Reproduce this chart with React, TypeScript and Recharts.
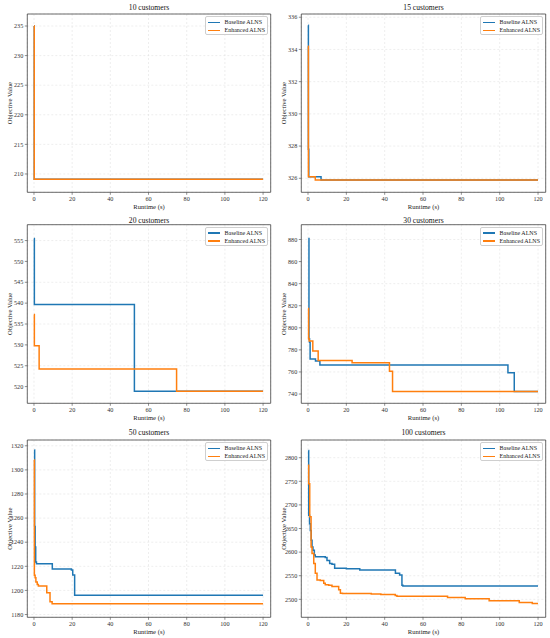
import React from "react";
import { CartesianGrid, Label, Legend, Line, LineChart, ReferenceLine, XAxis, YAxis } from "recharts";

// best-so-far objective value over runtime, [seconds, value] at each change
const baseline10 = [[0, 235], [0.15, 209.1], [120, 209.1]];
const enhanced10 = [[0, 235], [0.15, 209.1], [120, 209.1]];

const baseline15 = [[0.1, 335.5], [0.2, 327.8], [0.4, 326.1], [6.8, 325.9], [120, 325.9]];
const enhanced15 = [[0, 334.2], [0.2, 326.1], [3.8, 325.9], [120, 325.9]];

const baseline20 = [[0, 555.5], [0.2, 539.7], [52.6, 518.9], [120, 518.9]];
const enhanced20 = [[0, 537.3], [0.2, 529.8], [2.7, 524.2], [74.7, 518.9], [120, 518.9]];

const baseline30 = [
  [0.15, 881], [0.5, 790], [0.8, 787], [1.1, 771.7], [3.9, 770], [6.2, 766.3],
  [104.3, 759.2], [107.6, 742.3], [120, 742.3],
];
const enhanced30 = [
  [0, 817.5], [0.3, 790], [0.6, 788], [2.5, 779], [5.3, 770.3], [23, 768.3],
  [42.5, 760.7], [44.1, 742.3], [120, 742.3],
];

const baseline50 = [
  [0.15, 1316.5], [0.35, 1253], [0.6, 1236], [0.9, 1223.5], [1.3, 1222.2],
  [9.6, 1217.8], [19.6, 1217], [20.3, 1212.8], [21.3, 1195.9], [120, 1195.9],
];
const enhanced50 = [
  [0, 1308.3], [0.2, 1212.5], [0.6, 1210.5], [1, 1207], [1.7, 1205], [2.3, 1203.6],
  [6.7, 1198], [8.4, 1190.5], [9.5, 1188.9], [120, 1188.9],
];

const baseline100 = [
  [0.2, 2815.5], [0.35, 2678], [0.8, 2660], [1.2, 2646], [1.7, 2625], [2.1, 2611],
  [2.6, 2604], [3.3, 2594], [3.8, 2590], [9, 2588.5], [9.9, 2582], [11.3, 2576],
  [12.5, 2574.5], [13.9, 2566], [20, 2564.5], [27, 2562], [45.6, 2555],
  [47.8, 2551.5], [49, 2530], [49.5, 2528.3], [120, 2528.3],
];
const enhanced100 = [
  [0, 2784], [0.35, 2745], [0.9, 2675], [1.6, 2611], [2.1, 2597], [3, 2576],
  [3.8, 2555], [4.7, 2541], [6.4, 2540], [8.2, 2534], [9, 2531], [10.8, 2530],
  [12.5, 2527], [16, 2520], [16.9, 2513], [18, 2512.5], [33, 2511], [38, 2510],
  [45.5, 2508], [46.4, 2506.3], [72.8, 2504], [82, 2501], [94.5, 2497],
  [110.2, 2493], [117, 2491], [120, 2491],
];

const runtimeTicks = [0, 20, 40, 60, 80, 100, 120];
const ticks10 = [210, 215, 220, 225, 230, 235];
const ticks15 = [326, 328, 330, 332, 334, 336];
const ticks20 = [520, 525, 530, 535, 540, 545, 550, 555];
const ticks30 = [740, 760, 780, 800, 820, 840, 860, 880];
const ticks50 = [1180, 1200, 1220, 1240, 1260, 1280, 1300, 1320];
const ticks100 = [2500, 2550, 2600, 2650, 2700, 2750, 2800];

const BLUE = "#1f77b4";
const ORANGE = "#ff7f0e";
const FONT = "'Liberation Serif', 'Times New Roman', serif";
const SPINE = { stroke: "#444", strokeWidth: 0.8 };
const X_DOMAIN: [number, number] = [-3.5, 124];
const YW = 24;
const XH = 18;

const toPoints = (rows: number[][]) => rows.map(([t, v]) => ({ t, v }));

interface PanelCfg {
  title: string;
  baseline: number[][];
  enhanced: number[][];
  yTicks: number[];
  yDomain: [number, number];
  col: number;
  cellTop: number;
  cellH: number;
  box: { x: number; y: number; w: number; h: number };
  titleY: number;
}

const panels: PanelCfg[] = [
  { title: "10 customers", baseline: baseline10, enhanced: enhanced10, yTicks: ticks10, yDomain: [206.9, 237.03],
    col: 0, cellTop: 0, cellH: 212, box: { x: 27.3, y: 14, w: 243.4, h: 178.3 }, titleY: 7.3 },
  { title: "15 customers", baseline: baseline15, enhanced: enhanced15, yTicks: ticks15, yDomain: [325.13, 336.2],
    col: 1, cellTop: 0, cellH: 212, box: { x: 301.3, y: 14, w: 244.4, h: 178.3 }, titleY: 7.3 },
  { title: "20 customers", baseline: baseline20, enhanced: enhanced20, yTicks: ticks20, yDomain: [516.0, 558.8],
    col: 0, cellTop: 212, cellH: 213, box: { x: 27.3, y: 224.7, w: 243.4, h: 178.6 }, titleY: 220 },
  { title: "30 customers", baseline: baseline30, enhanced: enhanced30, yTicks: ticks30, yDomain: [731.6, 893.4],
    col: 1, cellTop: 212, cellH: 213, box: { x: 301.3, y: 224.7, w: 244.4, h: 178.6 }, titleY: 220 },
  { title: "50 customers", baseline: baseline50, enhanced: enhanced50, yTicks: ticks50, yDomain: [1177.7, 1324.8],
    col: 0, cellTop: 425, cellH: 213, box: { x: 27.3, y: 440, w: 243.4, h: 177.3 }, titleY: 432.7 },
  { title: "100 customers", baseline: baseline100, enhanced: enhanced100, yTicks: ticks100, yDomain: [2461.9, 2837.5],
    col: 1, cellTop: 425, cellH: 213, box: { x: 301.3, y: 440, w: 244.4, h: 177.3 }, titleY: 432.7 },
];

function LegendBox({ payload }: { payload?: Array<{ value?: string; color?: string }> }) {
  return (
    <div
      style={{
        width: 63.5,
        height: 18.5,
        boxSizing: "border-box",
        border: "0.8px solid #cfcfcf",
        borderRadius: 2,
        background: "rgba(255,255,255,0.85)",
        paddingTop: 1.2,
        fontFamily: FONT,
        fontSize: 6,
        color: "#222",
      }}
    >
      {(payload ?? []).map((entry) => (
        <div key={entry.value} style={{ display: "flex", alignItems: "center", height: 8, whiteSpace: "nowrap" }}>
          <span style={{ display: "inline-block", width: 12, height: 1.5, marginLeft: 2.2, marginRight: 4.8, background: entry.color }} />
          <span>{entry.value}</span>
        </div>
      ))}
    </div>
  );
}

function Panel({ cfg }: { cfg: PanelCfg }) {
  const cellLeft = cfg.col * 275;
  const W = 275;
  const margin = {
    left: cfg.box.x - cellLeft - YW,
    top: cfg.box.y - cfg.cellTop,
    right: cellLeft + W - (cfg.box.x + cfg.box.w),
    bottom: cfg.cellTop + cfg.cellH - (cfg.box.y + cfg.box.h) - XH,
  };
  const titleOffset = cfg.box.y - cfg.titleY;
  const tickStyle = { fontSize: 6.2, fontFamily: FONT, fill: "#333" };

  return (
    <div style={{ position: "absolute", left: cellLeft, top: cfg.cellTop }}>
      <LineChart width={W} height={cfg.cellH} margin={margin}>
        <CartesianGrid stroke="#dcdcdc" strokeDasharray="2 2" strokeWidth={0.5} />
        <XAxis
          type="number"
          dataKey="t"
          domain={X_DOMAIN}
          ticks={runtimeTicks}
          allowDataOverflow
          height={XH}
          tick={tickStyle}
          tickSize={2.5}
          tickMargin={1.5}
          tickLine={{ stroke: "#444", strokeWidth: 0.6 }}
          axisLine={SPINE}
        >
          <Label
            content={({ viewBox }: any) => (
              <text x={viewBox.x + viewBox.width / 2} y={viewBox.y + 14.4} textAnchor="middle"
                dominantBaseline="central" fontSize={6.6} fontFamily={FONT} fill="#222">
                Runtime (s)
              </text>
            )}
          />
        </XAxis>
        <YAxis
          type="number"
          domain={cfg.yDomain}
          ticks={cfg.yTicks}
          allowDataOverflow
          width={YW}
          tick={tickStyle}
          tickSize={2.5}
          tickMargin={1.5}
          tickLine={{ stroke: "#444", strokeWidth: 0.6 }}
          axisLine={SPINE}
        >
          <Label
            content={({ viewBox }: any) => {
              const x = viewBox.x + viewBox.width - 18;
              const y = viewBox.y + viewBox.height / 2;
              return (
                <text x={x} y={y} transform={`rotate(-90, ${x}, ${y})`} textAnchor="middle"
                  dominantBaseline="central" fontSize={6.6} fontFamily={FONT} fill="#222">
                  Objective Value
                </text>
              );
            }}
          />
        </YAxis>
        {/* top and right spines, title hung on the top one */}
        <ReferenceLine y={cfg.yDomain[1]} stroke={SPINE.stroke} strokeWidth={SPINE.strokeWidth} ifOverflow="visible">
          <Label
            content={({ viewBox }: any) => (
              <text x={viewBox.x + viewBox.width / 2} y={viewBox.y - titleOffset} textAnchor="middle"
                dominantBaseline="central" fontSize={7.6} fontFamily={FONT} fill="#111">
                {cfg.title}
              </text>
            )}
          />
        </ReferenceLine>
        <ReferenceLine x={X_DOMAIN[1]} stroke={SPINE.stroke} strokeWidth={SPINE.strokeWidth} ifOverflow="visible" />
        <Legend
          layout="vertical"
          align="center"
          verticalAlign="middle"
          width={64}
          wrapperStyle={{ top: margin.top + 2.3, right: margin.right + 2.2 }}
          content={(props: any) => <LegendBox payload={props.payload} />}
        />
        <Line
          data={toPoints(cfg.baseline)}
          dataKey="v"
          name="Baseline ALNS"
          type="stepAfter"
          stroke={BLUE}
          strokeWidth={1.5}
          dot={false}
          isAnimationActive={false}
        />
        <Line
          data={toPoints(cfg.enhanced)}
          dataKey="v"
          name="Enhanced ALNS"
          type="stepAfter"
          stroke={ORANGE}
          strokeWidth={1.5}
          dot={false}
          isAnimationActive={false}
        />
      </LineChart>
    </div>
  );
}

export default function App() {
  return (
    <div style={{ position: "absolute", left: 0, top: 0, width: 550, height: 638, background: "#fff" }}>
      {panels.map((p) => (
        <Panel key={p.title} cfg={p} />
      ))}
    </div>
  );
}
